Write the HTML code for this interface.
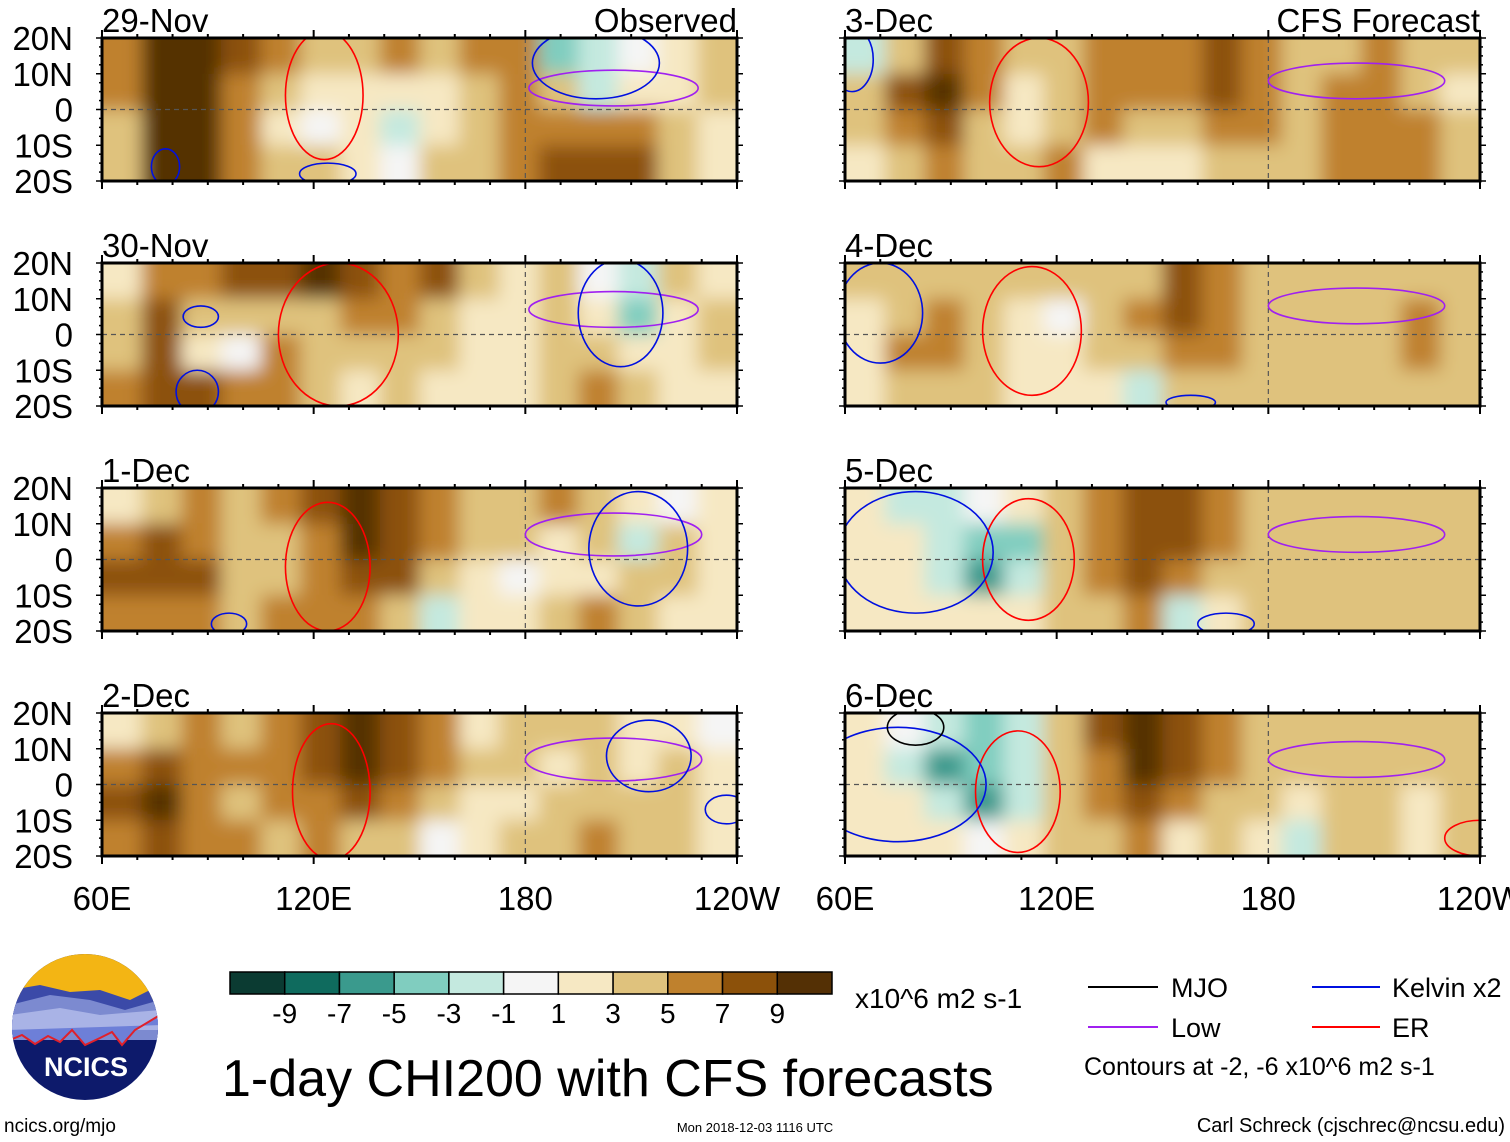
<!DOCTYPE html>
<html><head><meta charset="utf-8"><style>
body{margin:0;background:#fff;width:1510px;height:1142px;overflow:hidden;font-family:"Liberation Sans",sans-serif}
svg{position:absolute;left:0;top:0}
</style></head><body>
<svg id="fig" width="1510" height="1142" viewBox="0 0 1510 1142" font-family="Liberation Sans, sans-serif">
<defs><filter id="bl" x="-10%" y="-20%" width="120%" height="140%"><feGaussianBlur stdDeviation="9"/></filter></defs>
<g id="panels"></g>
<g id="bottom">
  <g>
    <clipPath id="lc"><circle cx="85" cy="1027" r="73"/></clipPath>
    <g clip-path="url(#lc)">
      <rect x="10" y="950" width="150" height="160" fill="#0d1a6b"/>
      <rect x="10" y="950" width="150" height="50" fill="#f3b514"/>
      <path d="M10 990 L40 985 L70 992 L100 990 L130 1000 L160 985 L160 1040 L10 1040Z" fill="#3b4aa8"/>
      <path d="M10 1005 L50 995 L90 1000 L125 1010 L160 1000 L160 1040 L10 1040Z" fill="#7c8ad0"/>
      <path d="M10 1015 L60 1008 L100 1015 L160 1010 L160 1030 L10 1030Z" fill="#a9b3e6"/>
      <path d="M10 1040 L22 1035 L35 1044 L48 1036 L60 1042 L72 1030 L85 1045 L100 1038 L112 1032 L122 1045 L135 1030 L160 1015 L160 1025 L10 1030Z" fill="#6d7fd8"/>
      <path d="M10 1040 L22 1035 L35 1044 L48 1036 L60 1042 L72 1030 L85 1045 L100 1038 L112 1032 L122 1045 L135 1030 L160 1015" fill="none" stroke="#e0202a" stroke-width="2"/>
    </g>
    <text x="86" y="1076" font-size="27" font-weight="bold" fill="#fff" text-anchor="middle">NCICS</text>
  </g>
  <text x="4" y="1132" font-size="19">ncics.org/mjo</text>
  <text x="755" y="1132" font-size="13" text-anchor="middle">Mon 2018-12-03 1116 UTC</text>
  <text x="1505" y="1132" font-size="20" text-anchor="end">Carl Schreck (cjschrec@ncsu.edu)</text>
  <text x="222" y="1096" font-size="52">1-day CHI200 with CFS forecasts</text>
  <g id="cbar"></g>
  <text x="855" y="1008" font-size="28">x10^6 m2 s-1</text>
  <g>
    <g><line x1="1088" y1="987" x2="1158" y2="987" stroke="#000" stroke-width="2"/><text x="1171" y="997" font-size="27">MJO</text></g>
    <g><line x1="1312" y1="987" x2="1380" y2="987" stroke="#0010e0" stroke-width="2"/><text x="1392" y="997" font-size="27">Kelvin x2</text></g>
    <g><line x1="1088" y1="1027" x2="1158" y2="1027" stroke="#a020f0" stroke-width="2"/><text x="1171" y="1037" font-size="27">Low</text></g>
    <g><line x1="1312" y1="1027" x2="1380" y2="1027" stroke="#f00" stroke-width="2"/><text x="1392" y="1037" font-size="27">ER</text></g>
    <text x="1084" y="1075" font-size="25">Contours at -2, -6 x10^6 m2 s-1</text>
  </g>
</g>
</svg>
<script>
const NS='http://www.w3.org/2000/svg';
const colors=['#0b3b32','#0f6b5e','#3a9a8d','#80cdbf','#c4e9df','#f5f5f5','#f6e8c3','#dfc27d','#bf812d','#8c510a','#543005'];
const cbLabels=['-9','-7','-5','-3','-1','1','3','5','7','9'];
const panelDates=['29-Nov','30-Nov','1-Dec','2-Dec','3-Dec','4-Dec','5-Dec','6-Dec'];
const latLabels=['20N','10N','0','10S','20S'];
const lonLabels=['60E','120E','180','120W'];
const fields=[
[[5,9,9,8,5,4,3,5,3,5,5,-4,-3,-1,2,3],[5,9,9,6,3,1,1,2,2,4,5,4,-2,1,2,3],[4,9,9,6,2,0,1,-3,2,4,6,6,6,5,3,2],[3,9,9,5,3,4,2,-1,3,4,6,7,8,7,4,2]],
[[1,5,5,7,8,9,8,6,7,4,2,3,0,-3,3,2],[4,7,3,3,4,3,6,5,4,2,1,3,1,-5,2,3],[4,7,2,0,5,4,3,4,3,1,2,3,3,1,2,3],[5,7,7,6,6,4,2,3,2,1,2,4,6,3,1,2]],
[[1,4,5,4,6,7,9,8,5,3,4,5,3,2,-1,2],[6,7,5,3,4,5,9,8,5,3,4,1,3,-2,3,2],[7,8,8,3,4,6,8,8,3,2,-1,2,2,3,3,2],[5,6,5,4,5,6,5,4,-2,1,2,4,6,4,2,2]],
[[1,4,5,4,6,8,9,8,5,2,3,4,3,1,1,-1],[6,8,5,5,6,8,9,7,5,3,3,2,3,1,3,2],[7,9,6,4,5,6,7,5,4,2,2,3,4,3,3,2],[5,7,6,5,4,5,4,3,-1,1,3,4,5,4,3,2]],
[[-2,3,7,5,3,4,5,5,6,8,6,3,4,5,3,3],[3,7,9,5,2,3,5,5,5,7,6,3,5,6,4,2],[3,6,7,4,1,3,5,4,4,6,5,3,5,6,5,3],[2,4,5,3,4,5,2,1,2,4,3,3,5,5,5,3]],
[[3,3,4,4,3,3,3,4,7,5,3,3,3,3,4,3],[2,4,6,4,2,-1,3,5,8,6,3,3,3,3,5,3],[2,5,6,3,2,2,3,4,6,5,3,3,3,4,5,3],[2,3,3,3,2,1,2,-2,3,3,3,3,3,3,3,3]],
[[1,-2,-2,-1,1,3,6,7,8,5,4,3,3,3,4,3],[1,1,-3,-5,-4,3,6,8,7,5,3,3,3,3,3,3],[2,2,-3,-6,-2,3,6,8,6,4,3,3,3,3,3,3],[2,1,1,1,2,3,4,5,-2,2,3,3,3,3,3,3]],
[[1,-1,-3,-4,-2,3,7,9,8,5,3,3,3,3,3,3],[1,-2,-7,-5,-3,3,6,9,8,5,3,3,3,3,3,3],[1,1,-3,-6,-3,3,5,8,6,4,3,2,3,3,2,3],[2,2,1,-1,2,3,4,5,2,3,2,-2,3,3,2,3]]
];
// contour ellipses: [lon, lat, rxDeg, ryDeg, type]
const contours=[
[[205,6,24,5,'low'],[123,4,11,18,'er'],[200,13,18,10,'kelvin'],[78,-16,4,5,'kelvin'],[124,-18,8,3,'kelvin']],
[[205,7,24,5,'low'],[127,0,17,20,'er'],[207,6,12,15,'kelvin'],[88,5,5,3,'kelvin'],[87,-16,6,6,'kelvin']],
[[205,7,25,6,'low'],[124,-2,12,18,'er'],[212,3,14,16,'kelvin'],[96,-18,5,3,'kelvin']],
[[205,7,25,6,'low'],[125,-2,11,19,'er'],[215,8,12,10,'kelvin'],[237,-7,6,4,'kelvin']],
[[205,8,25,5,'low'],[115,2,14,18,'er'],[62,14,6,9,'kelvin']],
[[205,8,25,5,'low'],[113,1,14,18,'er'],[70,6,12,14,'kelvin'],[158,-19,7,2,'kelvin']],
[[205,7,25,5,'low'],[112,0,13,17,'er'],[80,2,22,17,'kelvin'],[168,-18,8,3,'kelvin']],
[[205,7,25,5,'low'],[109,-2,12,17,'er'],[75,0,25,16,'kelvin'],[80,16,8,5,'mjo'],[240,-15,10,5,'er']]
];
const cc={low:'#a020f0',er:'#f00',kelvin:'#0010e0',mjo:'#000'};
const PW=635,PH=143,colX=[102,845],rowY=[38,263,488,713];
const g=document.getElementById('panels');
function mk(t,a,p){const e=document.createElementNS(NS,t);for(const k in a)e.setAttribute(k,a[k]);(p||g).appendChild(e);return e;}
function colorOf(v){return colors[Math.max(0,Math.min(10,Math.floor((v+11)/2)))];}
panelDates.forEach((d,i)=>{
  const x0=colX[i<4?0:1],y0=rowY[i%4];
  const xs=lon=>x0+(lon-60)/180*PW, ys=lat=>y0+(20-lat)/40*PH;
  const pg=mk('g',{});
  
  
  const cp=mk('clipPath',{id:'cp'+i},pg);mk('rect',{x:x0,y:y0,width:PW,height:PH},cp);
  const cg=mk('g',{'clip-path':'url(#cp'+i+')'},pg);
  const fg=mk('g',{filter:'url(#bl)'},cg);
  const f=fields[i],nc=f[0].length,nr=f.length,cw=180/nc;
  f.forEach((row,r)=>row.forEach((v,c)=>{
    const lx=60+c*cw,lt=20-r*10;
    let X=xs(lx),Y=ys(lt),W=xs(lx+cw)-X,H=ys(lt-10)-Y;
    if(c===0){X-=30;W+=30;} if(c===nc-1)W+=30; if(r===0){Y-=30;H+=30;} if(r===nr-1)H+=30;
    const rc=mk('rect',{x:X,y:Y,width:W+0.5,height:H+0.5,fill:colorOf(v)},fg);
    
    
  }));
  mk('line',{x1:x0,y1:ys(0),x2:x0+PW,y2:ys(0),stroke:'#555','stroke-dasharray':'5,4','stroke-width':1.2},cg);
  mk('line',{x1:xs(180),y1:y0,x2:xs(180),y2:y0+PH,stroke:'#555','stroke-dasharray':'5,4','stroke-width':1.2},cg);
  contours[i].forEach(c=>{
    const e=mk('ellipse',{cx:xs(c[0]),cy:ys(c[1]),rx:c[2]*PW/180,ry:c[3]*PH/40,fill:'none',stroke:cc[c[4]],'stroke-width':1.6},cg);
    
    
  });
  mk('rect',{x:x0,y:y0,width:PW,height:PH,fill:'none',stroke:'#000','stroke-width':3},pg);
  for(let lon=60;lon<=240;lon+=10){const L=lon%60===0?8:4;
    mk('line',{x1:xs(lon),y1:y0,x2:xs(lon),y2:y0-L,stroke:'#000','stroke-width':2},pg);
    mk('line',{x1:xs(lon),y1:y0+PH,x2:xs(lon),y2:y0+PH+L,stroke:'#000','stroke-width':2},pg);}
  for(let lat=-20;lat<=20;lat+=2.5){const L=lat%10===0?6:3;
    mk('line',{x1:x0,y1:ys(lat),x2:x0-L,y2:ys(lat),stroke:'#000','stroke-width':1.5},pg);
    mk('line',{x1:x0+PW,y1:ys(lat),x2:x0+PW+L,y2:ys(lat),stroke:'#000','stroke-width':1.5},pg);}
  const t=mk('text',{x:x0,y:y0-6,'font-size':33},pg);t.textContent=d;
  
  
  if(i===0||i===4){const tt=mk('text',{x:x0+PW,y:y0-6,'font-size':33,'text-anchor':'end'},pg);tt.textContent=i===0?'Observed':'CFS Forecast';
    
    }
  if(i<4) latLabels.forEach((l,k)=>{const lt=mk('text',{x:73,y:ys(20-k*10)+12,'font-size':33,'text-anchor':'end'},pg);lt.textContent=l;
    
    });
  if(i%4===3) lonLabels.forEach((l,k)=>{const lt=mk('text',{x:xs(60+k*60),y:910,'font-size':33,'text-anchor':'middle'},pg);lt.textContent=l;
    
    });
});
const cb=document.getElementById('cbar');
const bw=(832-230)/colors.length;
colors.forEach((c,k)=>{const r=mk('rect',{x:230+k*bw,y:972,width:bw,height:22,fill:c,stroke:'#000','stroke-width':1.5},cb);
  
  });
cbLabels.forEach((l,k)=>{const t=mk('text',{x:230+(k+1)*bw,y:1023,'font-size':28,'text-anchor':'middle'},cb);t.textContent=l;
  
  });
</script>
</body></html>
